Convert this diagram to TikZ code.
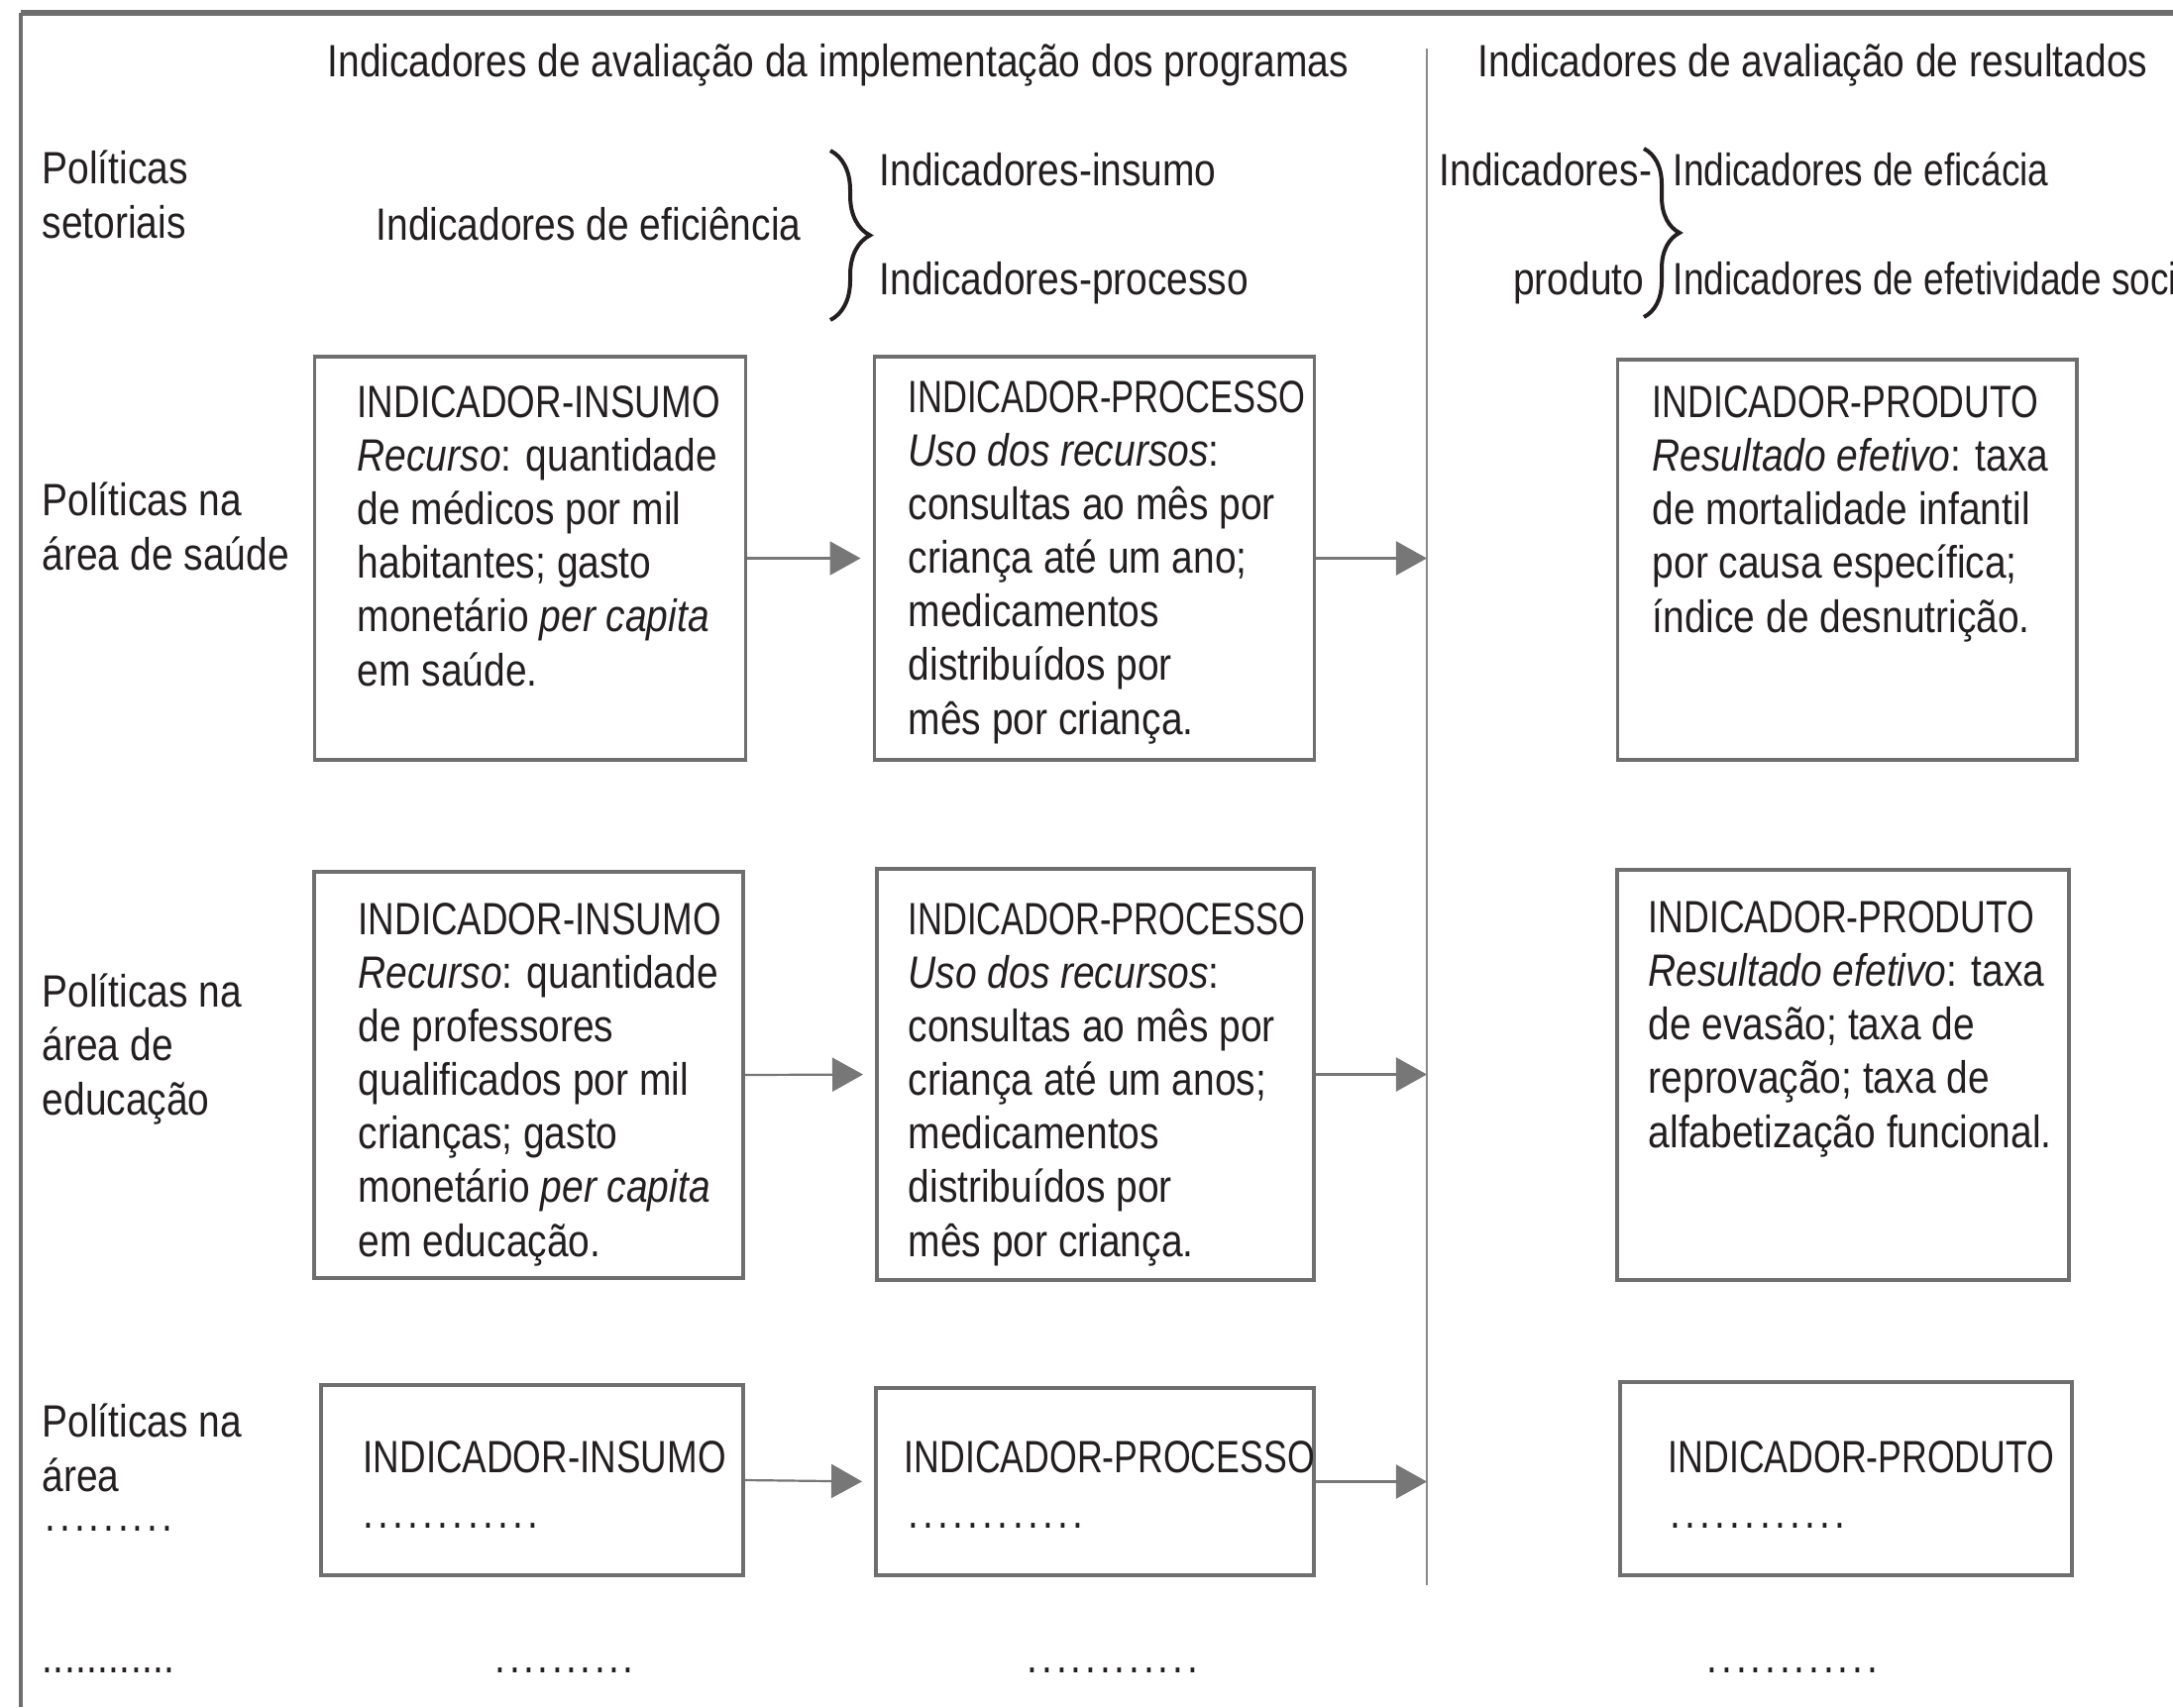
\documentclass[tikz,border=0pt]{standalone}
\usepackage{fontspec}
\setmainfont{Liberation Sans}[FakeStretch=0.852]
\newfontfamily\versal{Liberation Sans}[FakeStretch=0.78]
\newfontfamily\versalLarga{Liberation Sans}[FakeStretch=0.805]
\newfontfamily\versalCurta{Liberation Sans}[FakeStretch=0.755]
\newfontfamily\estreita{Liberation Sans}[FakeStretch=0.81]
\usetikzlibrary{arrows.meta,decorations.pathreplacing}

\definecolor{tinta}{HTML}{231F20}
\definecolor{moldura}{HTML}{6E6E6E}
\definecolor{cinzaseta}{HTML}{777777}
\definecolor{cinzadiv}{HTML}{8A8A8A}

% row of spaced dots: count, kern
\newcommand\pontos[2]{\foreach \i in {1,...,#1}{.\kern#2}}

\tikzset{
  texto/.style={anchor=base west, inner sep=0pt, align=left, text=tinta},
  caixa/.style={draw=moldura, line width=0.037cm, inner sep=0pt},
  fluxo/.style={draw=cinzaseta, line width=0.022cm,
    -{Triangle[length=0.31cm,width=0.34cm]}, shorten >=0.12cm},
  chave/.style={draw=tinta, line width=0.04cm, decorate,
    decoration={brace, amplitude=0.40cm}},
}

\begin{document}
\begin{tikzpicture}[x=0.01cm, y=-0.01cm,
    font=\fontsize{13pt}{15.4pt}\selectfont]
  \useasboundingbox (0,0) rectangle (2193,1723);
  \clip (0,0) rectangle (2193,1723);

  % Frame
  \draw [moldura, line width=0.055cm] (21,13) -- (2193,13);%
  \draw [moldura, line width=0.03cm] (21,13) -- (21,1723);%

  % Divider between the two groups
  \coordinate (divTopo) at (1440,49);
  \coordinate (divBase) at (1440,1600);
  \draw [cinzadiv, line width=0.015cm] (divTopo) -- (divBase);%

  % Headers
  \node (cabImpl) [texto] at (330,77) {Indicadores de avaliação da implementação dos programas};%
  \node (cabRes) [texto] at (1491,77) {Indicadores de avaliação de resultados};%

  % Politicas setoriais and the two braces
  % (multi-line nodes sit on the baseline of their last line)
  \node (polSet) [texto] at (42,240) {Políticas\\setoriais};%
  \node (efic) [texto] at (379,242) {Indicadores de eficiência};%
  \draw [chave] (838,152) -- (838,323);%
  \node (insumo) [texto] at (887,187) {Indicadores-insumo};%
  \node (processo) [texto] at (887,297) {Indicadores-processo};%
  \node (indProd) [texto] at (1452,187) {Indicadores-};%
  \node (produto) [texto, anchor=base east] at (1660,297) {produto};%
  \draw [chave, decoration={amplitude=0.36cm}] (1659,150) -- (1659,320);%
  \node (eficacia) [texto] at (1688,187) {\estreita Indicadores de eficácia};%
  \node (efetiv) [texto] at (1688,297) {\estreita Indicadores de efetividade social};%

  % Row 1: saude
  \node (polSaude) [texto] at (42,575) {Políticas na\\área de saúde};%
  \node (ins1) [caixa, minimum width=4.35cm, minimum height=4.07cm] at (535,563.5) {};%
  \node (pro1) [caixa, minimum width=4.44cm, minimum height=4.07cm] at (1104.5,563.5) {};%
  \node (prd1) [caixa, minimum width=4.63cm, minimum height=4.04cm] at (1864,565) {};%
  \node (tIns1) [texto] at (360,692) {{\versalLarga INDICADOR-INSUMO}\\\textit{Recurso}: quantidade\\de médicos por mil\\habitantes; gasto\\monetário \textit{per capita}\\em saúde.};%
  \node (tPro1) [texto] at (916,741) {{\versalCurta INDICADOR-PROCESSO}\\\textit{Uso dos recursos}:\\consultas ao mês por\\criança até um ano;\\medicamentos\\distribuídos por\\mês por criança.};%
  \node (tPrd1) [texto] at (1667,638) {{\versal INDICADOR-PRODUTO}\\\textit{Resultado efetivo}: taxa\\de mortalidade infantil\\por causa específica;\\índice de desnutrição.};%
  \draw [fluxo] (ins1.east) -- (pro1.west);%
  \draw [fluxo, shorten >=0pt] (pro1.east) -- (pro1.east -| divTopo);%

  % Row 2: educacao
  \node (polEduc) [texto] at (42,1125) {Políticas na\\área de\\educação};%
  \node (ins2) [caixa, minimum width=4.33cm, minimum height=4.10cm] at (533.5,1085) {};%
  \node (pro2) [caixa, minimum width=4.41cm, minimum height=4.15cm] at (1105.5,1084.5) {};%
  \node (prd2) [caixa, minimum width=4.56cm, minimum height=4.14cm] at (1860,1085) {};%
  \node (tIns2) [texto] at (361,1268) {{\versalLarga INDICADOR-INSUMO}\\\textit{Recurso}: quantidade\\de professores\\qualificados por mil\\crianças; gasto\\monetário \textit{per capita}\\em educação.};%
  \node (tPro2) [texto] at (916,1268) {{\versalCurta INDICADOR-PROCESSO}\\\textit{Uso dos recursos}:\\consultas ao mês por\\criança até um anos;\\medicamentos\\distribuídos por\\mês por criança.};%
  \node (tPrd2) [texto] at (1663,1158) {{\versal INDICADOR-PRODUTO}\\\textit{Resultado efetivo}: taxa\\de evasão; taxa de\\reprovação; taxa de\\alfabetização funcional.};%
  \draw [fluxo] (ins2.east) -- (pro2.west);%
  \draw [fluxo, shorten >=0pt] (pro2.east) -- (pro2.east -| divTopo);%

  % Row 3: other areas
  \node (polArea) [texto] at (42,1505) {Políticas na\\área};%
  \node (pArea) [texto] at (45,1545) {\pontos{9}{1.1pt}};%
  \node (ins3) [caixa, minimum width=4.26cm, minimum height=1.92cm] at (537,1494) {};%
  \node (pro3) [caixa, minimum width=4.42cm, minimum height=1.89cm] at (1105,1495.5) {};%
  \node (prd3) [caixa, minimum width=4.56cm, minimum height=1.95cm] at (1863,1492.5) {};%
  \node (tIns3) [texto] at (366,1486) {\versalLarga INDICADOR-INSUMO};%
  \node (pIns3) [texto] at (366,1542) {\pontos{12}{1.2pt}};%
  \node (tPro3) [texto] at (912,1486) {\versal INDICADOR-PROCESSO};%
  \node (pPro3) [texto] at (916,1542) {\pontos{12}{1.2pt}};%
  \node (tPrd3) [texto] at (1683,1486) {\versal INDICADOR-PRODUTO};%
  \node (pPrd3) [texto] at (1685,1542) {\pontos{12}{1.2pt}};%
  \draw [fluxo] (ins3.east) -- (pro3.west);%
  \draw [fluxo, shorten >=0pt] (pro3.east) -- (pro3.east -| divTopo);%

  % Last line of dots
  \node (pFim1) [texto] at (42,1688) {\pontos{12}{0.1pt}};%
  \node (pFim2) [texto] at (499,1688) {\pontos{10}{1.0pt}};%
  \node (pFim3) [texto] at (1036,1688) {\pontos{12}{1.1pt}};%
  \node (pFim4) [texto] at (1722,1688) {\pontos{12}{1.1pt}};%
\end{tikzpicture}
\end{document}
